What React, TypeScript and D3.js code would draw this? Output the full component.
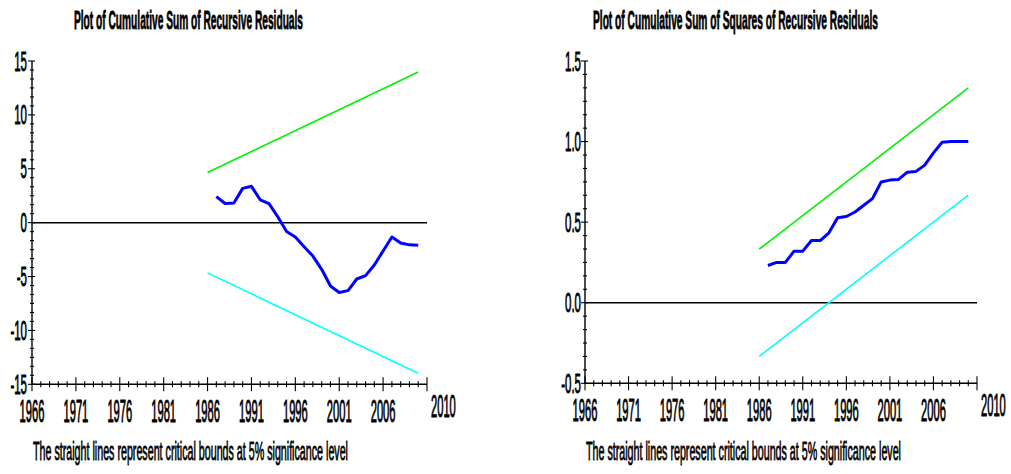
import React from "react";
import * as d3 from "d3";

// Recursive-residual stability tests (CUSUM and CUSUM of squares)
const residualYears = [
  1987, 1988, 1989, 1990, 1991, 1992, 1993, 1994, 1995, 1996, 1997, 1998,
  1999, 2000, 2001, 2002, 2003, 2004, 2005, 2006, 2007, 2008, 2009, 2010,
];
const cusumValues = [
  2.41, 1.78, 1.82, 3.18, 3.37, 2.12, 1.76, 0.55, -0.83, -1.33, -2.23, -3.1,
  -4.33, -5.88, -6.48, -6.31, -5.23, -4.92, -3.93, -2.63, -1.33, -1.89, -2.06,
  -2.09,
];
const cusumSqValues = [
  0.231, 0.25, 0.25, 0.32, 0.32, 0.386, 0.386, 0.434, 0.527, 0.535, 0.563,
  0.605, 0.646, 0.749, 0.761, 0.765, 0.81, 0.815, 0.854, 0.93, 0.996, 1.0, 1.0,
  1.0,
];
const boundYears = [1986, 2010];
const cusumUpper = [4.66, 13.98];
const cusumLower = [-4.66, -13.98];
const cusumSqUpper = [0.333, 1.333];
const cusumSqLower = [-0.333, 0.667];

const yearTicks = [1966, 1971, 1976, 1981, 1986, 1991, 1996, 2001, 2006];
const endYearLabel = "2010";
const cusumTicks = [-15, -10, -5, 0, 5, 10, 15];
const cusumSqTicks = [-0.5, 0, 0.5, 1.0, 1.5];

const titles = [
  "Plot of Cumulative Sum of Recursive Residuals",
  "Plot of Cumulative Sum of Squares of Recursive Residuals",
];
const footnote =
  "The straight lines represent critical bounds at 5% significance level";

const FONT = "'Liberation Sans', Arial, sans-serif";

type PanelProps = {
  x0: number;
  x1: number;
  yTop: number;
  yBottom: number;
  yDomain: [number, number];
  yTicks: number[];
  yFormat: (v: number) => string;
  labelGap: number;
  values: number[];
  upper: number[];
  lower: number[];
  title: string;
  titleX: [number, number];
};

function Panel(p: PanelProps) {
  const x = d3.scaleLinear().domain([1966, 2011]).range([p.x0, p.x1]);
  const y = d3.scaleLinear().domain(p.yDomain).range([p.yBottom, p.yTop]);

  const line = d3
    .line<[number, number]>()
    .x((d) => x(d[0]))
    .y((d) => y(d[1]));

  const series = residualYears.map((yr, i) => [yr, p.values[i]] as [number, number]);
  const up = boundYears.map((yr, i) => [yr, p.upper[i]] as [number, number]);
  const lo = boundYears.map((yr, i) => [yr, p.lower[i]] as [number, number]);

  // minor y ticks: six steps between labelled ticks
  const majorStep = p.yTicks[1] - p.yTicks[0];
  const yMinor = d3
    .range(0, ((p.yDomain[1] - p.yDomain[0]) / majorStep) * 6 + 0.5)
    .map((i) => p.yDomain[0] + (i * majorStep) / 6);
  const xMinor = d3.range(1966, 2012);
  const axisY = y(p.yDomain[0]);
  const titleW = p.titleX[1] - p.titleX[0];

  return (
    <g>
      <g transform={`translate(${p.titleX[0]},29) scale(0.4,1)`}>
        <text
          x={0}
          y={0}
          textLength={titleW / 0.4}
          lengthAdjust="spacingAndGlyphs"
          fontFamily={FONT}
          fontWeight="bold"
          fontSize={25}
          fill="#000"
          stroke="#000"
          strokeWidth={0.8}
        >
          {p.title}
        </text>
      </g>

      {/* y axis */}
      <line x1={p.x0} x2={p.x0} y1={y(p.yDomain[1])} y2={axisY} stroke="#000" strokeWidth={1.4} />
      {yMinor.map((v, i) => {
        const major = i % 6 === 0;
        return (
          <line
            key={"ym" + i}
            x1={p.x0 - (major ? 4 : 2)}
            x2={p.x0 + (major ? 3 : 2)}
            y1={y(v)}
            y2={y(v)}
            stroke="#000"
            strokeWidth={1.1}
          />
        );
      })}
      {p.yTicks.map((v) => (
        <g key={"yl" + v} transform={`translate(${p.x0 - p.labelGap},${y(v) + 9.5}) scale(0.41,1)`}>
          <text textAnchor="end" fontFamily={FONT} fontSize={28} fill="#000" stroke="#000" strokeWidth={0.9}>
            {p.yFormat(v)}
          </text>
        </g>
      ))}

      {/* x axis */}
      <line x1={p.x0} x2={p.x1} y1={axisY} y2={axisY} stroke="#000" strokeWidth={1.4} />
      {xMinor.map((yr) => {
        const major = (yr - 1966) % 5 === 0;
        return (
          <line
            key={"xm" + yr}
            x1={x(yr)}
            x2={x(yr)}
            y1={axisY - (major ? 7 : 3)}
            y2={axisY + (major ? 7 : 3)}
            stroke="#000"
            strokeWidth={1.1}
          />
        );
      })}
      {yearTicks.map((yr) => (
        <g key={"xl" + yr} transform={`translate(${x(yr)},${axisY + 37.5}) scale(0.36,1)`}>
          <text textAnchor="middle" fontFamily={FONT} fontSize={31} fill="#000" stroke="#000" strokeWidth={1}>
            {yr}
          </text>
        </g>
      ))}
      <g transform={`translate(${p.x1 + 4},${axisY + 32.5}) scale(0.36,1)`}>
        <text textAnchor="start" fontFamily={FONT} fontSize={31} fill="#000" stroke="#000" strokeWidth={1}>
          {endYearLabel}
        </text>
      </g>

      {/* zero reference line */}
      <line x1={p.x0} x2={p.x1} y1={y(0)} y2={y(0)} stroke="#000" strokeWidth={1.5} />

      {/* critical bounds */}
      <path d={line(up) ?? ""} fill="none" stroke="#00f000" strokeWidth={1.6} />
      <path d={line(lo) ?? ""} fill="none" stroke="#00ffff" strokeWidth={1.6} />

      {/* recursive residual statistic */}
      <path d={line(series) ?? ""} fill="none" stroke="#0000ff" strokeWidth={3} strokeLinejoin="round" />

      <g transform={`translate(${p.x0 + 1},460) scale(0.42,1)`}>
        <text
          x={0}
          y={0}
          textLength={750}
          lengthAdjust="spacingAndGlyphs"
          fontFamily={FONT}
          fontSize={25}
          fill="#000"
          stroke="#000"
          strokeWidth={0.8}
        >
          {footnote}
        </text>
      </g>
    </g>
  );
}

export default function App() {
  return (
    <div style={{ position: "absolute", left: 0, top: 0 }}>
      <svg width={1011} height={474} style={{ display: "block", background: "#fff" }}>
        <rect width={1011} height={474} fill="#fff" />
        <Panel
          x0={32}
          x1={427}
          yTop={61}
          yBottom={384.3}
          yDomain={[-15, 15]}
          yTicks={cusumTicks}
          yFormat={(v) => String(v)}
          labelGap={5}
          values={cusumValues}
          upper={cusumUpper}
          lower={cusumLower}
          title={titles[0]}
          titleX={[74, 303]}
        />
        <Panel
          x0={585}
          x1={977}
          yTop={61}
          yBottom={383.3}
          yDomain={[-0.5, 1.5]}
          yTicks={cusumSqTicks}
          yFormat={(v) => v.toFixed(1)}
          labelGap={4}
          values={cusumSqValues}
          upper={cusumSqUpper}
          lower={cusumSqLower}
          title={titles[1]}
          titleX={[593, 878]}
        />
      </svg>
    </div>
  );
}
